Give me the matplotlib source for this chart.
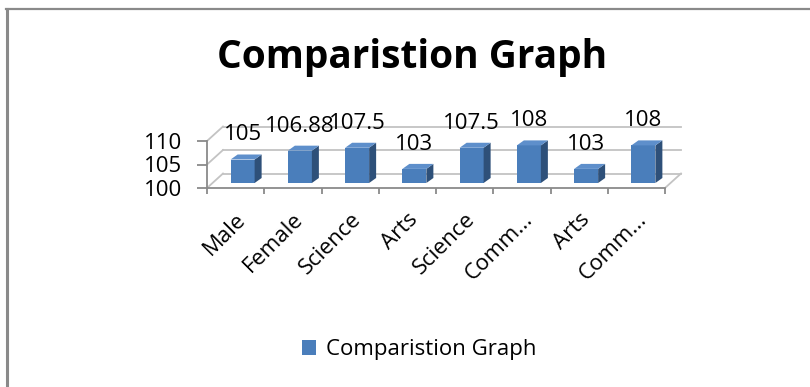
import numpy as np
import matplotlib.pyplot as plt
from matplotlib.lines import Line2D
from matplotlib.patches import Polygon
from matplotlib.transforms import ScaledTranslation

categories = ['Male', 'Female', 'Science', 'Arts', 'Science', 'Comm...', 'Arts', 'Comm...']
values = [105, 106.88, 107.5, 103, 107.5, 108, 103, 108]
value_labels = ['105', '106.88', '107.5', '103', '107.5', '108', '103', '108']
y_ticks = [100, 105, 110]
chart_title = 'Comparistion Graph'
series_name = 'Comparistion Graph'

plt.rcParams['font.family'] = ['Open Sans', 'DejaVu Sans']

W, H = 810, 387
fig = plt.figure(figsize=(W / 100, H / 100), dpi=100)

# front edge of the floor / value axis of the pseudo-3D plot area
ax = fig.add_axes([207 / W, 1 - 188 / H, 458 / W, 47 / H])
n = len(categories)
ax.set_xlim(0, n)
ax.set_ylim(y_ticks[0], y_ticks[-1])

px_x = 458 / n          # pixels per category
px_y = 47 / (y_ticks[-1] - y_ticks[0])   # pixels per value unit

# depth of the walls and of the bars, in data units
DX, DY = 16 / px_x, 14.5 / px_y
OX, OY = 7 / px_x, 5 / px_y        # bar front face offset into the depth
BDX, BDY = 7 / px_x, 5 / px_y      # bar depth
BW = 24 / px_x

grid_c = '#c3c3c3'
axis_c = '#8a8a8a'
front_c = '#4a7ebb'
side_c = '#2e5079'
top_c = '#5e8fcb'
fs = 16

# back wall gridlines and side wall diagonals
for v in y_ticks:
    ax.plot([0, DX], [v, v + DY], color=grid_c, lw=1.3, clip_on=False, zorder=1)
    ax.plot([DX, n + DX], [v + DY, v + DY], color=grid_c, lw=1.3, clip_on=False, zorder=1)
ax.plot([n, n + DX], [y_ticks[0], y_ticks[0] + DY], color=grid_c, lw=1.3,
        clip_on=False, zorder=1)

x = np.arange(n) + 0.5 + OX
vals = np.array(values)
base = y_ticks[0] + OY
bars = ax.bar(x, vals - y_ticks[0], bottom=base, width=BW, color=front_c,
              zorder=3, label=series_name, clip_on=False)

for xi, v in zip(x, vals):
    xl, xr = xi - BW / 2, xi + BW / 2
    top = v + OY
    side = Polygon([(xr, base), (xr + BDX, base + BDY), (xr + BDX, top + BDY), (xr, top)],
                   closed=True, facecolor=side_c, edgecolor='none', zorder=3, clip_on=False)
    lid = Polygon([(xl, top), (xr, top), (xr + BDX, top + BDY), (xl + BDX, top + BDY)],
                  closed=True, facecolor=top_c, edgecolor='none', zorder=3, clip_on=False)
    ax.add_patch(side)
    ax.add_patch(lid)

# value labels above each column
for xi, v, lab in zip(x, vals, value_labels):
    ax.text(xi, v + OY + BDY + 14 / px_y, lab, ha='center', va='baseline',
            fontsize=fs, color='black', zorder=5)

for s in ['top', 'right']:
    ax.spines[s].set_visible(False)
for s in ['left', 'bottom']:
    ax.spines[s].set_color(axis_c)
    ax.spines[s].set_linewidth(1.3)
ax.set_facecolor('none')

ax.set_yticks(y_ticks)
ax.set_yticklabels([str(t) for t in y_ticks], fontsize=fs)
ax.tick_params(axis='y', length=7.2, width=1.3, color=axis_c, pad=11)

ax.set_xticks(np.arange(n + 1))
ax.set_xticklabels([])
ax.tick_params(axis='x', which='major', length=4, width=1.3, color=axis_c)
ax.set_xticks(np.arange(n) + 0.5, minor=True)
ax.set_xticklabels(categories, minor=True, fontsize=fs, rotation=45,
                   ha='right', va='top', rotation_mode='anchor')
ax.tick_params(axis='x', which='minor', length=0, pad=15)
shift = ScaledTranslation(0, 0, fig.dpi_scale_trans)
for lab in ax.get_xticklabels(minor=True):
    lab.set_transform(lab.get_transform() + shift)

fig.text(412 / W, 1 - 68 / H, chart_title, ha='center', va='baseline',
         fontsize=28, fontweight='bold')

fig.legend(handles=[bars], labels=[series_name], loc='center',
           bbox_to_anchor=(419 / W, 1 - 350 / H), frameon=False, fontsize=fs,
           handlelength=0.65, handleheight=0.65, handletextpad=0.45)

# chart frame (top and left edges)
fig.add_artist(Line2D([6 / W, 1], [1 - 9 / H, 1 - 9 / H], color=axis_c, lw=1.6))
fig.add_artist(Line2D([6.5 / W, 6.5 / W], [0, 1 - 9 / H], color=axis_c, lw=2.2))

fig.savefig('out.png', dpi=100)
